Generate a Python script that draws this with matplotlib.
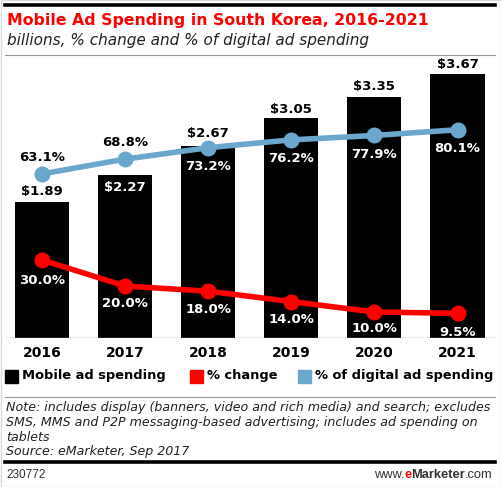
import matplotlib
matplotlib.use("Agg")
import matplotlib.pyplot as plt
from matplotlib.patches import Rectangle
import numpy as np

years = ["2016", "2017", "2018", "2019", "2020", "2021"]
spending = [1.89, 2.27, 2.67, 3.05, 3.35, 3.67]
spending_labels = ["$1.89", "$2.27", "$2.67", "$3.05", "$3.35", "$3.67"]
pct_change = [30.0, 20.0, 18.0, 14.0, 10.0, 9.5]
pct_digital = [63.1, 68.8, 73.2, 76.2, 77.9, 80.1]
legend_labels = ["Mobile ad spending", "% change", "% of digital ad spending"]
note_lines = [
    "Note: includes display (banners, video and rich media) and search; excludes",
    "SMS, MMS and P2P messaging-based advertising; includes ad spending on",
    "tablets",
    "Source: eMarketer, Sep 2017",
]

BLACK = "#000000"
RED = "#ff0000"
BLUE = "#6ba7cc"
W, H = 502, 487

fig = plt.figure(figsize=(W / 100, H / 100), dpi=100)


def fx(px):
    return px / W


def fy(py):
    return 1 - py / H


def hline(y, x0, x1, lw, color):
    fig.add_artist(plt.Line2D([fx(x0), fx(x1)], [fy(y), fy(y)], lw=lw, color=color,
                              transform=fig.transFigure))


# outer frame
fig.add_artist(Rectangle((0.001, 0.001), 0.998, 0.998, fill=False, ec="#d9d9d9", lw=1.0,
                         transform=fig.transFigure))

# header
hline(5, 5, 495, 2.6, BLACK)
fig.text(fx(7), fy(20), "Mobile Ad Spending in South Korea, 2016-2021", color=RED,
         fontsize=11.3, fontweight="bold", va="center", ha="left")
fig.text(fx(7), fy(40), "billions, % change and % of digital ad spending", color="#222222",
         fontsize=11, style="italic", va="center", ha="left")
hline(55, 5, 495, 0.8, "#999999")

# main axes: bottom at y=338 px, top at y=65 px
ax_left, ax_right = 5, 495
ax_top, ax_bot = 65, 338
ax = fig.add_axes([fx(ax_left), fy(ax_bot), fx(ax_right - ax_left), (ax_bot - ax_top) / H])
x = np.arange(len(years))
step = 83.1
ax.set_xlim(-(42 - ax_left) / step, 5 + (ax_right - 457.5) / step)
ax.set_ylim(0, (ax_bot - ax_top) / 72.0)
ax.bar(x, spending, width=0.65, color=BLACK, zorder=2)
ax.axhline(0, color="#999999", lw=1.0, zorder=3)
for s in ax.spines.values():
    s.set_visible(False)
ax.set_yticks([])
ax.set_xticks(x, years, fontsize=10, fontweight="bold")
ax.tick_params(axis="x", length=0, pad=6)

ax2 = ax.twinx()
ax2.set_ylim(0, (ax_bot - ax_top) / 2.6)
for s in ax2.spines.values():
    s.set_visible(False)
ax2.set_yticks([])
ax2.plot(x, pct_digital, color=BLUE, lw=4, marker="o", ms=10.5, zorder=4,
         solid_capstyle="round")
ax2.plot(x, pct_change, color=RED, lw=4, marker="o", ms=10.5, zorder=4,
         solid_capstyle="round")

PX = 0.72  # points per pixel
lab_kw = dict(ha="center", va="center", fontsize=9.5, fontweight="bold",
              textcoords="offset points")

# bar value labels (offset in px, positive = up)
bar_off = [10, -13, 12, 9, 10, 9]
for i, (v, t) in enumerate(zip(spending, spending_labels)):
    col = BLACK if bar_off[i] > 0 else "white"
    ax.annotate(t, (x[i], v), xytext=(0, bar_off[i] * PX), color=col, **lab_kw)

dig_off = [16, 17, -19, -19, -19, -19]
for i, v in enumerate(pct_digital):
    col = BLACK if dig_off[i] > 0 else "white"
    ax2.annotate(f"{v:.1f}%", (x[i], v), xytext=(0, dig_off[i] * PX), color=col, **lab_kw)

chg_off = [-21, -18, -18, -18, -17, -19]
for i, v in enumerate(pct_change):
    ax2.annotate(f"{v:.1f}%", (x[i], v), xytext=(0, chg_off[i] * PX), color="white", **lab_kw)

# legend
leg_y = 376
for lx, col, txt in zip([5, 190, 298], [BLACK, RED, BLUE], legend_labels):
    fig.add_artist(Rectangle((fx(lx), fy(leg_y + 6.5)), fx(13), 13 / H, color=col,
                             transform=fig.transFigure))
    fig.text(fx(lx + 17), fy(leg_y), txt, fontsize=9.4, fontweight="bold", va="center",
             ha="left")

# footer
hline(397, 5, 495, 0.8, "#999999")
for i, line in enumerate(note_lines):
    fig.text(fx(6), fy(408 + i * 14.6), line, fontsize=9.1, style="italic", color="#222222",
             va="center", ha="left")
hline(462, 5, 495, 2.6, BLACK)
fig.text(fx(6), fy(475), "230772", fontsize=8.5, color="#333333", va="center", ha="left",
         family="Liberation Sans")
fs = 9.3
t = fig.text(fx(493), fy(475), ".com", fontsize=fs, color="#333333", va="center",
             ha="right", family="Liberation Sans")
fig.canvas.draw()
bb = t.get_window_extent()
t2 = fig.text(bb.x0 / W, fy(475), "Marketer", fontsize=fs, fontweight="bold", color="#333333",
              va="center", ha="right", family="Liberation Sans")
bb = t2.get_window_extent()
t3 = fig.text(bb.x0 / W, fy(475), "e", fontsize=fs, fontweight="bold", color=RED,
              va="center", ha="right", family="Liberation Sans")
bb = t3.get_window_extent()
fig.text(bb.x0 / W, fy(475), "www.", fontsize=fs, color="#333333", va="center", ha="right",
         family="Liberation Sans")

fig.savefig("out.png", dpi=100)
